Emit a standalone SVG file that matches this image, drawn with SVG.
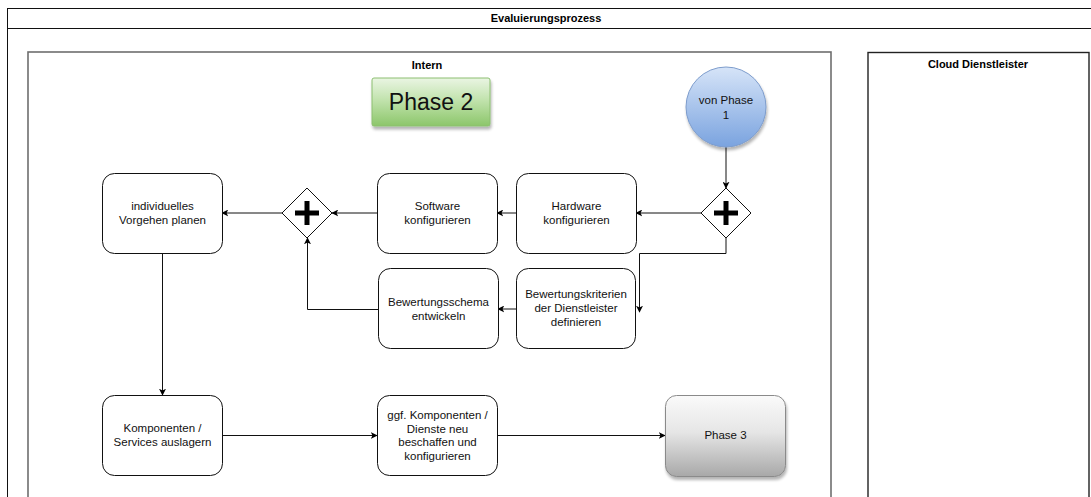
<svg xmlns="http://www.w3.org/2000/svg" width="1091" height="497" viewBox="0 0 1091 497">
  <style>
    .title { font-family: "Liberation Sans", Arial, sans-serif; font-size: 11px; font-weight: bold; fill: #000; text-anchor: middle; }
    .lbl { font-family: "Liberation Sans", Arial, sans-serif; font-size: 11.5px; fill: #111; text-anchor: middle; }
    .task { fill: #fff; stroke: #111; stroke-width: 1; }
    .gate { fill: #fff; stroke: #111; stroke-width: 1; }
    .plus { stroke: #000; stroke-width: 5; fill: none; }
    .conn { fill: none; stroke: #111; stroke-width: 1; }
  </style>
  <defs>
    <marker id="arrow" viewBox="0 0 10 10" refX="9" refY="5" markerWidth="7" markerHeight="7" orient="auto" markerUnits="userSpaceOnUse">
      <path d="M0,0 L10,5 L0,10 L2.5,5 Z" fill="#000"/>
    </marker>
    <linearGradient id="green" x1="0" y1="0" x2="0" y2="1">
      <stop offset="0" stop-color="#eaf5e3"/>
      <stop offset="0.45" stop-color="#c2e3ae"/>
      <stop offset="1" stop-color="#8cc66a"/>
    </linearGradient>
    <linearGradient id="gray" x1="0" y1="0" x2="0" y2="1">
      <stop offset="0" stop-color="#fafafa"/>
      <stop offset="0.45" stop-color="#e6e6e6"/>
      <stop offset="1" stop-color="#a8a8a8"/>
    </linearGradient>
    <linearGradient id="blue" x1="0" y1="0" x2="0" y2="1">
      <stop offset="0" stop-color="#d6e4f8"/>
      <stop offset="1" stop-color="#7aa3df"/>
    </linearGradient>
    <filter id="shadow" x="-20%" y="-20%" width="140%" height="150%">
      <feGaussianBlur in="SourceAlpha" stdDeviation="1.5"/>
      <feOffset dx="1" dy="3" result="off"/>
      <feComponentTransfer><feFuncA type="linear" slope="0.3"/></feComponentTransfer>
      <feMerge><feMergeNode/><feMergeNode in="SourceGraphic"/></feMerge>
    </filter>
  </defs>

  <rect width="1091" height="497" fill="#fff"/>

  <!-- pool: Evaluierungsprozess -->
  <g id="pool">
    <rect x="7.5" y="8.5" width="1090" height="500" fill="none" stroke="#111" stroke-width="1"/>
    <line x1="7.5" y1="28.5" x2="1091" y2="28.5" stroke="#111" stroke-width="1"/>
    <text class="title" x="546" y="22">Evaluierungsprozess</text>
  </g>

  <!-- lane: Intern -->
  <g id="lane-intern">
    <rect x="28" y="52" width="803" height="460" fill="none" stroke="#6e6e6e" stroke-width="1.6"/>
    <text class="title" x="427" y="69">Intern</text>
  </g>

  <!-- lane: Cloud Dienstleister -->
  <g id="lane-cloud">
    <rect x="868" y="52.5" width="221" height="460" fill="none" stroke="#222" stroke-width="1.4"/>
    <text class="title" x="978" y="68">Cloud Dienstleister</text>
  </g>

  <!-- connectors -->
  <g id="connectors">
    <path class="conn" d="M726,147 L726,188" marker-end="url(#arrow)"/>
    <path class="conn" d="M701,213 L636,213" marker-end="url(#arrow)"/>
    <path class="conn" d="M516,213 L497,213" marker-end="url(#arrow)"/>
    <path class="conn" d="M377,213 L332,213" marker-end="url(#arrow)"/>
    <path class="conn" d="M282,213 L222,213" marker-end="url(#arrow)"/>
    <path class="conn" d="M726,238 L726,253.5 L639.5,253.5 L639.5,312" marker-end="url(#arrow)"/>
    <path class="conn" d="M516,309 L498,309" marker-end="url(#arrow)"/>
    <path class="conn" d="M378,309.5 L307.5,309.5 L307.5,238" marker-end="url(#arrow)"/>
    <path class="conn" d="M162.5,253 L162.5,395" marker-end="url(#arrow)"/>
    <path class="conn" d="M222,435.5 L377,435.5" marker-end="url(#arrow)"/>
    <path class="conn" d="M497,435.5 L665,435.5" marker-end="url(#arrow)"/>
  </g>

  <!-- Phase 2 label -->
  <g id="phase2">
    <rect x="372" y="78" width="118" height="48" rx="2" fill="url(#green)" stroke="#8cbf70" stroke-width="1" filter="url(#shadow)"/>
    <text class="lbl" x="431" y="110" style="font-size:23px">Phase 2</text>
  </g>

  <!-- start event: von Phase 1 -->
  <g id="start">
    <circle cx="726" cy="107" r="40" fill="url(#blue)" stroke="#7d9ccc" stroke-width="1" filter="url(#shadow)"/>
    <text class="lbl" x="726" y="104">von Phase</text>
    <text class="lbl" x="726" y="119">1</text>
  </g>

  <!-- parallel gateway (split) -->
  <g id="gateway-split">
    <path class="gate" d="M726,188 L751,213 L726,238 L701,213 Z"/>
    <path class="plus" d="M726,201 L726,225 M714,213 L738,213"/>
  </g>

  <!-- parallel gateway (join) -->
  <g id="gateway-join">
    <path class="gate" d="M307,188 L332,213 L307,238 L282,213 Z"/>
    <path class="plus" d="M307,201 L307,225 M295,213 L319,213"/>
  </g>

  <g id="hardware">
    <rect class="task" x="516.5" y="173.5" width="120" height="80" rx="12"/>
    <text class="lbl" x="576.5" y="210">Hardware</text>
    <text class="lbl" x="576.5" y="224">konfigurieren</text>
  </g>

  <g id="software">
    <rect class="task" x="377.5" y="173.5" width="120" height="80" rx="12"/>
    <text class="lbl" x="437.5" y="210">Software</text>
    <text class="lbl" x="437.5" y="224">konfigurieren</text>
  </g>

  <g id="planen">
    <rect class="task" x="102.5" y="173.5" width="120" height="80" rx="12"/>
    <text class="lbl" x="162.5" y="210">individuelles</text>
    <text class="lbl" x="162.5" y="224">Vorgehen planen</text>
  </g>

  <g id="kriterien">
    <rect class="task" x="516.5" y="268.5" width="119" height="80" rx="12"/>
    <text class="lbl" x="576" y="298">Bewertungskriterien</text>
    <text class="lbl" x="576" y="312">der Dienstleister</text>
    <text class="lbl" x="576" y="326">definieren</text>
  </g>

  <g id="schema">
    <rect class="task" x="378.5" y="268.5" width="120" height="80" rx="12"/>
    <text class="lbl" x="438.5" y="306">Bewertungsschema</text>
    <text class="lbl" x="438.5" y="320">entwickeln</text>
  </g>

  <g id="auslagern">
    <rect class="task" x="102.5" y="395.5" width="120" height="80" rx="12"/>
    <text class="lbl" x="162.5" y="432">Komponenten /</text>
    <text class="lbl" x="162.5" y="446">Services auslagern</text>
  </g>

  <g id="beschaffen">
    <rect class="task" x="377.5" y="395.5" width="120" height="80" rx="12"/>
    <text class="lbl" x="437.5" y="419">ggf. Komponenten /</text>
    <text class="lbl" x="437.5" y="432.5">Dienste neu</text>
    <text class="lbl" x="437.5" y="446">beschaffen und</text>
    <text class="lbl" x="437.5" y="459.5">konfigurieren</text>
  </g>

  <!-- link to Phase 3 -->
  <g id="phase3">
    <rect x="665.5" y="395.5" width="120" height="81" rx="11" fill="url(#gray)" stroke="#8a8a8a" stroke-width="1" filter="url(#shadow)"/>
    <text class="lbl" x="725.5" y="439">Phase 3</text>
  </g>
</svg>
